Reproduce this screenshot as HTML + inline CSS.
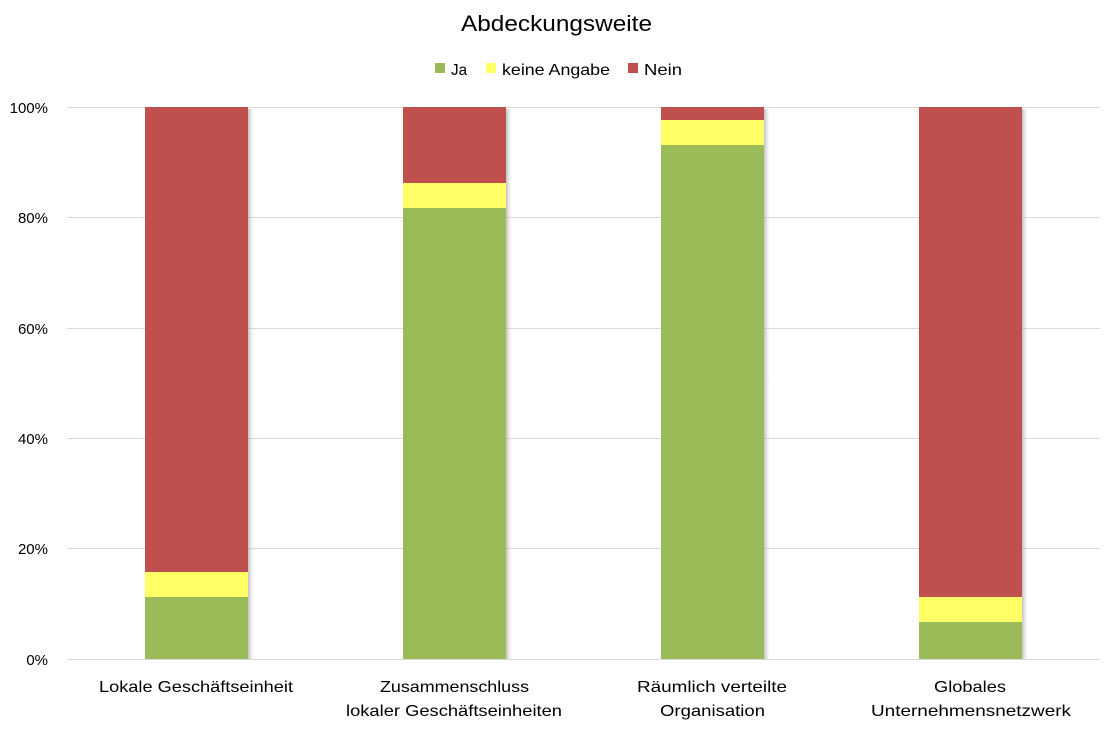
<!DOCTYPE html>
<html><head><meta charset="utf-8"><style>
body{margin:0;background:#fff;}
svg text{font-family:"Liberation Sans",sans-serif;fill:#000;}
</style></head><body>
<svg width="1115" height="730" xmlns="http://www.w3.org/2000/svg">
<defs><linearGradient id="sh" x1="0" x2="1"><stop offset="0" stop-color="#999" stop-opacity="0.6"/><stop offset="1" stop-color="#ccc" stop-opacity="0"/></linearGradient></defs>
<text x="461" y="31" font-size="22" textLength="191" lengthAdjust="spacingAndGlyphs">Abdeckungsweite</text>
<rect x="435" y="63" width="10" height="10" fill="#9bbb59"/><text x="451" y="75" font-size="16" textLength="16" lengthAdjust="spacingAndGlyphs">Ja</text>
<rect x="486" y="63" width="10" height="10" fill="#ffff66"/><text x="502" y="75" font-size="16" textLength="108" lengthAdjust="spacingAndGlyphs">keine Angabe</text>
<rect x="628" y="63" width="10" height="10" fill="#c0504d"/><text x="644" y="75" font-size="16" textLength="38" lengthAdjust="spacingAndGlyphs">Nein</text>
<g stroke="#d9d9d9" stroke-width="1">
<line x1="67" x2="1100" y1="107.5" y2="107.5"/><line x1="67" x2="1100" y1="217.5" y2="217.5"/><line x1="67" x2="1100" y1="328.5" y2="328.5"/><line x1="67" x2="1100" y1="438.5" y2="438.5"/><line x1="67" x2="1100" y1="548.5" y2="548.5"/><line x1="67" x2="1100" y1="659.5" y2="659.5"/>
</g>
<g font-size="15" text-anchor="end">
<text x="48" y="113">100%</text><text x="48" y="223">80%</text><text x="48" y="334">60%</text><text x="48" y="444">40%</text><text x="48" y="554">20%</text><text x="48" y="665">0%</text>
</g>
<g>
<rect x="248" y="109" width="6" height="550" fill="url(#sh)"/>
<rect x="506" y="109" width="6" height="550" fill="url(#sh)"/>
<rect x="764" y="109" width="6" height="550" fill="url(#sh)"/>
<rect x="1022" y="109" width="6" height="550" fill="url(#sh)"/>
</g>
<rect x="145" y="107" width="103" height="465" fill="#c0504d"/><rect x="145" y="572" width="103" height="25" fill="#ffff66"/><rect x="145" y="597" width="103" height="62" fill="#9bbb59"/>
<rect x="403" y="107" width="103" height="76" fill="#c0504d"/><rect x="403" y="183" width="103" height="25" fill="#ffff66"/><rect x="403" y="208" width="103" height="451" fill="#9bbb59"/>
<rect x="661" y="107" width="103" height="13" fill="#c0504d"/><rect x="661" y="120" width="103" height="25" fill="#ffff66"/><rect x="661" y="145" width="103" height="514" fill="#9bbb59"/>
<rect x="919" y="107" width="103" height="490" fill="#c0504d"/><rect x="919" y="597" width="103" height="25" fill="#ffff66"/><rect x="919" y="622" width="103" height="37" fill="#9bbb59"/>
<g font-size="16">
<text x="99" y="692" textLength="194" lengthAdjust="spacingAndGlyphs">Lokale Geschäftseinheit</text>
<text x="380" y="692" textLength="149" lengthAdjust="spacingAndGlyphs">Zusammenschluss</text><text x="346" y="716" textLength="216" lengthAdjust="spacingAndGlyphs">lokaler Geschäftseinheiten</text>
<text x="637" y="692" textLength="150" lengthAdjust="spacingAndGlyphs">Räumlich verteilte</text><text x="660" y="716" textLength="105" lengthAdjust="spacingAndGlyphs">Organisation</text>
<text x="934" y="692" textLength="72" lengthAdjust="spacingAndGlyphs">Globales</text><text x="871" y="716" textLength="200" lengthAdjust="spacingAndGlyphs">Unternehmensnetzwerk</text>
</g>
</svg>
</body></html>
